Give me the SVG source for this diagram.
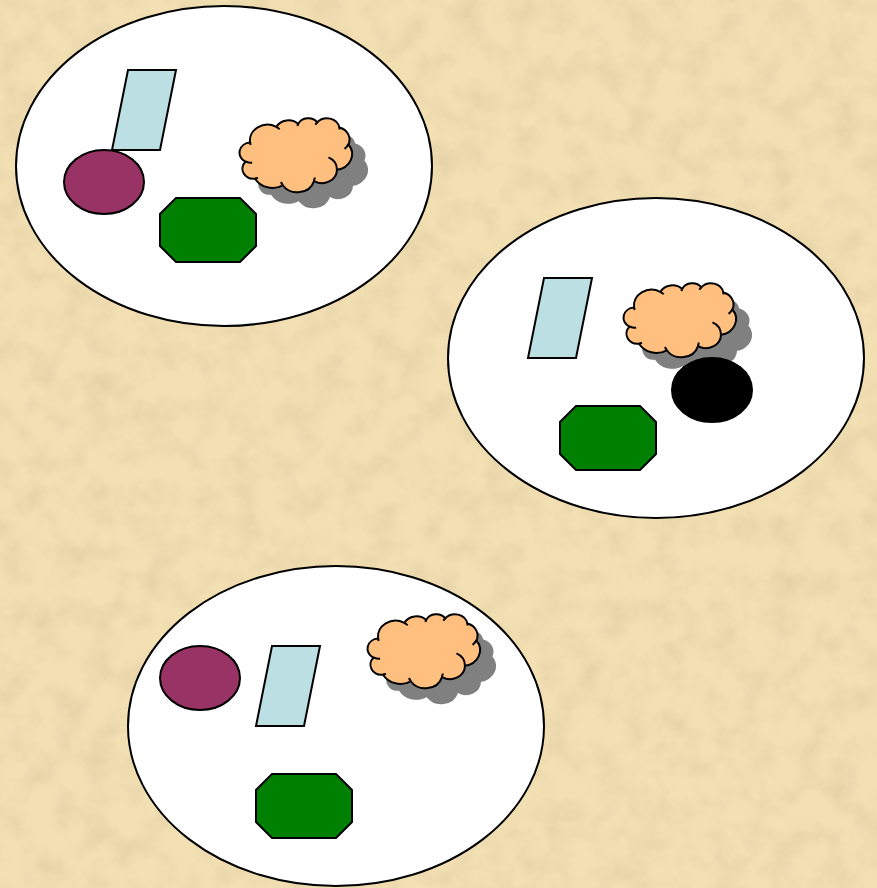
<svg xmlns="http://www.w3.org/2000/svg" xmlns:xlink="http://www.w3.org/1999/xlink" width="877" height="888" viewBox="0 0 877 888">
<defs>
<filter id="tex" x="0" y="0" width="100%" height="100%">
<feTurbulence type="fractalNoise" baseFrequency="0.035" numOctaves="4" seed="7"/>
<feColorMatrix type="matrix" values="0 0 0 0 0.78  0 0 0 0 0.63  0 0 0 0 0.38  1.7 0 0 0 -0.64"/>
</filter>
<path id="cloud" d="M10.11,24.62 A17.51,15.74 0 0 1 36.31,8.91 A13.83,12.45 0 0 1 58.21,5.88 A11.32,10.18 0 0 1 77.34,4.24 A12.59,11.30 0 0 1 99.34,9.54 A13.83,12.46 0 0 1 108.41,26.48 A17.56,15.79 0 0 1 96.97,51.73 A15.00,13.48 0 0 1 74.03,63.06 A17.51,15.79 0 0 1 42.72,67.26 A20.01,18.06 0 0 1 15.04,60.76 A11.30,10.14 0 0 1 5.47,43.76 A11.26,10.18 0 0 1 10.11,24.62 Z"/>
<g id="cloudnode">
<use xlink:href="#cloud" transform="translate(16,16)" fill="#808080"/>
<use xlink:href="#cloud" fill="#FFBF7F" stroke="#000" stroke-width="2"/>
<path d="M12.17,44.84 A11.26,10.18 0 0 1 5.60,43.48 M17.96,59.78 A11.30,10.14 0 0 1 15.09,60.44 M42.72,66.96 A17.51,15.79 0 0 1 40.99,63.98 M74.74,59.53 A17.51,15.79 0 0 1 74.04,62.80 M88.48,39.32 A15.00,13.48 0 0 1 96.91,51.54 M108.37,26.30 A13.83,12.46 0 0 1 104.61,30.89 M99.36,9.29 A12.59,11.30 0 0 1 99.56,11.46 M75.39,6.77 A12.59,11.30 0 0 1 77.31,4.01 M57.40,8.09 A11.32,10.18 0 0 1 58.34,5.70 M36.30,8.89 A17.51,15.74 0 0 1 39.67,11.21 M10.70,27.05 A17.51,15.74 0 0 1 10.11,24.62" fill="none" stroke="#000" stroke-width="2"/>
</g>
</defs>
<style>
.plate{fill:#fff;stroke:#000;stroke-width:2}
.para{fill:#BBDFE3;stroke:#000;stroke-width:2}
.oct{fill:#008000;stroke:#000;stroke-width:2}
.purple{fill:#993366;stroke:#000;stroke-width:2}
.black{fill:#000;stroke:#000;stroke-width:2}
</style>
<rect x="0" y="0" width="877" height="888" fill="#F2E0B3"/>
<rect x="0" y="0" width="877" height="888" filter="url(#tex)"/>

<g id="plate1">
<ellipse class="plate" cx="224" cy="166" rx="208" ry="160"/>
</g>
<g id="para1"><polygon class="para" points="128,70 176,70 160,150 112,150"/></g>
<g id="purple1"><ellipse class="purple" cx="104" cy="182" rx="40" ry="32"/></g>
<g id="oct1"><polygon class="oct" points="176,198 240,198 256,214 256,246 240,262 176,262 160,246 160,214"/></g>
<g id="cloud1"><use xlink:href="#cloudnode" transform="translate(240,118)"/></g>

<g id="plate2">
<ellipse class="plate" cx="656" cy="358" rx="208" ry="160"/>
</g>
<g id="para2"><polygon class="para" points="544,278 592,278 576,358 528,358"/></g>
<g id="cloud2"><use xlink:href="#cloudnode" transform="translate(624,283)"/></g>
<g id="black2"><ellipse class="black" cx="712" cy="390" rx="40" ry="32"/></g>
<g id="oct2"><polygon class="oct" points="576,406 640,406 656,422 656,454 640,470 576,470 560,454 560,422"/></g>

<g id="plate3">
<ellipse class="plate" cx="336" cy="726" rx="208" ry="160"/>
</g>
<g id="purple3"><ellipse class="purple" cx="200" cy="678" rx="40" ry="32"/></g>
<g id="para3"><polygon class="para" points="272,646 320,646 304,726 256,726"/></g>
<g id="cloud3"><use xlink:href="#cloudnode" transform="translate(368,614)"/></g>
<g id="oct3"><polygon class="oct" points="272,774 336,774 352,790 352,822 336,838 272,838 256,822 256,790"/></g>

<g id="connectors"/>
</svg>
